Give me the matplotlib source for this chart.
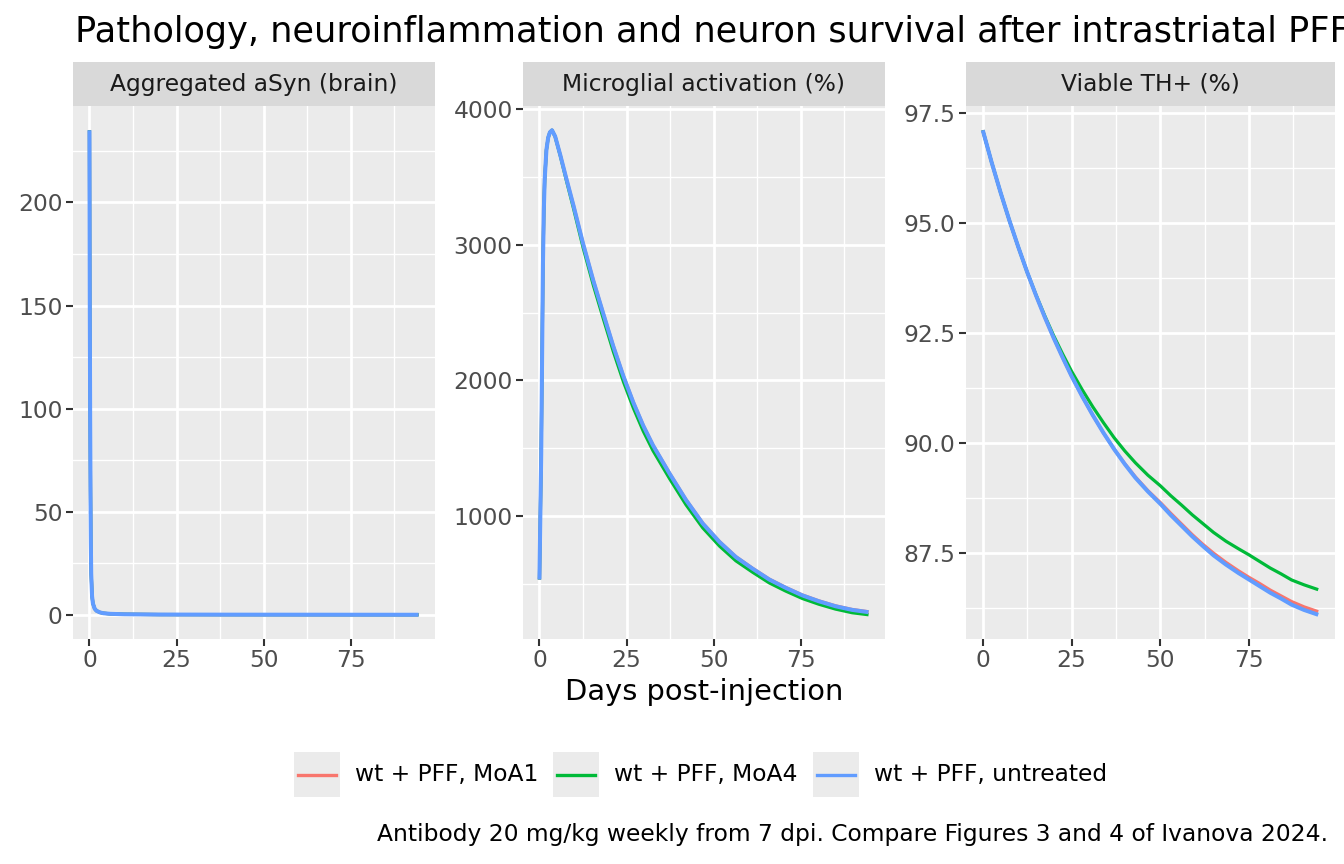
import matplotlib
matplotlib.use("Agg")
import matplotlib.pyplot as plt
from matplotlib.ticker import MultipleLocator, FormatStrFormatter
from matplotlib.patches import Rectangle
from matplotlib.lines import Line2D

# ---- data ----
series = ["wt + PFF, MoA1", "wt + PFF, MoA4", "wt + PFF, untreated"]
colors = ["#F8766D", "#00BA38", "#619CFF"]
line_widths = [2.3, 2.3, 2.9]

# Aggregated aSyn (brain) -- the three groups overlap completely
asyn_days = [0, 0.1, 0.2, 0.3, 0.4, 0.5, 0.75, 1, 1.5, 2, 3, 4, 6, 10, 20, 40, 60, 80, 94.5]
asyn_moa1 = [235, 150, 95, 60, 35, 20, 9, 5.5, 3, 2, 1.2, 0.8, 0.5, 0.3, 0.15, 0.1, 0.08, 0.06, 0.05]
asyn_moa4 = [235, 150, 95, 60, 35, 20, 9, 5.5, 3, 2, 1.2, 0.8, 0.5, 0.3, 0.15, 0.1, 0.08, 0.06, 0.05]
asyn_untreated = [235, 150, 95, 60, 35, 20, 9, 5.5, 3, 2, 1.2, 0.8, 0.5, 0.3, 0.15, 0.1, 0.08, 0.06, 0.05]

# Microglial activation (%)
micro_days = [0, 0.25, 0.5, 0.75, 1, 1.25, 1.5, 2, 2.5, 3, 3.6, 4.5, 6, 7.6, 9.8, 12.5, 15.5,
              18.4, 21.2, 24.1, 27, 29.8, 32.6, 37.4, 42.1, 46.9, 51.7, 56.4, 61.2, 66, 70.7,
              75.5, 80.2, 85, 89.8, 94.5]
micro_untreated = [530, 1000, 1450, 2150, 2850, 3250, 3480, 3700, 3790, 3830, 3845, 3800, 3660,
                   3500, 3286, 3010, 2732, 2485, 2251, 2030, 1833, 1665, 1520, 1310, 1116, 943,
                   807, 696, 610, 530, 469, 413, 370, 333, 306, 289]
micro_moa1 = [530, 1000, 1450, 2150, 2850, 3250, 3480, 3700, 3790, 3830, 3845, 3800, 3660,
              3501, 3288, 3013, 2735, 2488, 2254, 2033, 1836, 1668, 1523, 1313, 1119, 946,
              810, 699, 613, 533, 472, 416, 373, 336, 309, 292]
micro_moa4 = [530, 1000, 1450, 2150, 2850, 3250, 3480, 3700, 3790, 3830, 3845, 3798, 3655,
              3488, 3266, 2982, 2699, 2449, 2213, 1990, 1793, 1625, 1481, 1273, 1081, 911,
              777, 668, 584, 505, 445, 390, 348, 312, 285, 270]

# Viable TH+ (%)
th_days = [0, 2.5, 5, 7.5, 10, 12.5, 15, 17.5, 20, 22.5, 25, 28, 31, 34, 37, 40, 43, 46.5, 50,
           53, 56, 59, 62, 65, 68.5, 72, 75, 78, 81, 84, 87, 90.5, 94.5]
th_untreated = [97.10, 96.37, 95.69, 95.05, 94.45, 93.88, 93.35, 92.85, 92.38, 91.94, 91.52,
                91.06, 90.63, 90.23, 89.86, 89.52, 89.21, 88.90, 88.62, 88.36, 88.12, 87.88,
                87.66, 87.45, 87.24, 87.05, 86.90, 86.75, 86.60, 86.47, 86.33, 86.21, 86.10]
th_moa1 = [97.10, 96.37, 95.69, 95.05, 94.45, 93.88, 93.35, 92.85, 92.38, 91.94, 91.52,
           91.06, 90.63, 90.23, 89.86, 89.53, 89.23, 88.92, 88.65, 88.40, 88.16, 87.92,
           87.70, 87.50, 87.29, 87.10, 86.95, 86.81, 86.66, 86.53, 86.40, 86.28, 86.17]
th_moa4 = [97.10, 96.37, 95.69, 95.05, 94.45, 93.88, 93.36, 92.88, 92.43, 92.02, 91.63,
           91.21, 90.82, 90.46, 90.12, 89.82, 89.55, 89.27, 89.03, 88.80, 88.59, 88.37,
           88.17, 87.97, 87.77, 87.60, 87.46, 87.31, 87.16, 87.03, 86.89, 86.78, 86.67]

panel_titles = ["Aggregated aSyn (brain)", "Microglial activation (%)", "Viable TH+ (%)"]
x_ticks = [0, 25, 50, 75]

# ---- layout in pixels of a 1344x864 figure ----
W, H = 1344, 864
fig = plt.figure(figsize=(W / 100, H / 100), dpi=100)

def px_axes(left, right, top, bottom):
    return fig.add_axes([left / W, 1 - bottom / H, (right - left) / W, (bottom - top) / H])

panel_x = [(73, 435), (523, 885), (966, 1335)]
panel_top, panel_bottom, strip_top = 106, 639, 62

panels = [
    (asyn_days, [asyn_moa1, asyn_moa4, asyn_untreated], 50, None),
    (micro_days, [micro_moa1, micro_moa4, micro_untreated], 1000, None),
    (th_days, [th_moa1, th_moa4, th_untreated], 2.5, "%.1f"),
]

for (l, r), title, (days, ys, ystep, fmt) in zip(panel_x, panel_titles, panels):
    ax = px_axes(l, r, panel_top, panel_bottom)
    ax.set_facecolor("#EBEBEB")
    for s in ax.spines.values():
        s.set_visible(False)
    for y, c, lw in zip(ys, colors, line_widths):
        ax.plot(days, y, color=c, lw=lw, solid_capstyle="butt", solid_joinstyle="round", zorder=3)

    # ggplot-like 5% expansion
    xmin, xmax = min(days), max(days)
    ax.set_xlim(xmin - 0.05 * (xmax - xmin), xmax + 0.05 * (xmax - xmin))
    lo = min(min(y) for y in ys)
    hi = max(max(y) for y in ys)
    ax.set_ylim(lo - 0.05 * (hi - lo), hi + 0.05 * (hi - lo))

    ax.set_xticks(x_ticks)
    ax.xaxis.set_minor_locator(MultipleLocator(12.5))
    ax.yaxis.set_major_locator(MultipleLocator(ystep))
    ax.yaxis.set_minor_locator(MultipleLocator(ystep / 2))
    if fmt:
        ax.yaxis.set_major_formatter(FormatStrFormatter(fmt))
    ax.grid(which="major", color="white", lw=2.0, zorder=1)
    ax.grid(which="minor", color="white", lw=1.0, zorder=1)
    ax.set_axisbelow(True)
    ax.tick_params(which="major", length=5, width=1.5, color="#333333",
                   labelcolor="#4D4D4D", labelsize=16.8, pad=2.5)
    ax.tick_params(which="minor", length=0)

    st = px_axes(l, r, strip_top, panel_top)
    st.set_facecolor("#D9D9D9")
    st.set_xticks([])
    st.set_yticks([])
    for s in st.spines.values():
        s.set_visible(False)
    st.text(0.5, 0.5, title, ha="center", va="center", fontsize=16.8, color="#1A1A1A",
            transform=st.transAxes)

fig.text(75 / W, 1 - 32 / H, "Pathology, neuroinflammation and neuron survival after intrastriatal PFF",
         ha="left", va="center", fontsize=25.3, color="black")
fig.text(704 / W, 1 - 692 / H, "Days post-injection", ha="center", va="center", fontsize=20.8)

# legend drawn as ggplot-style key boxes
key_left = [294, 553, 813]
for kl, name, c in zip(key_left, series, colors):
    fig.patches.append(Rectangle((kl / W, 1 - 797 / H), 46 / W, 45 / H,
                                 transform=fig.transFigure, facecolor="#EBEBEB", edgecolor="none"))
    fig.lines.append(Line2D([(kl + 4) / W, (kl + 42) / W], [1 - 775 / H, 1 - 775 / H],
                            transform=fig.transFigure, color=c, lw=2.4))
    fig.text((kl + 61) / W, 1 - 775 / H, name, ha="left", va="center", fontsize=16.8)

fig.text(1328 / W, 1 - 835 / H,
         "Antibody 20 mg/kg weekly from 7 dpi. Compare Figures 3 and 4 of Ivanova 2024.",
         ha="right", va="center", fontsize=16.8)

fig.savefig("out.png", dpi=100)
